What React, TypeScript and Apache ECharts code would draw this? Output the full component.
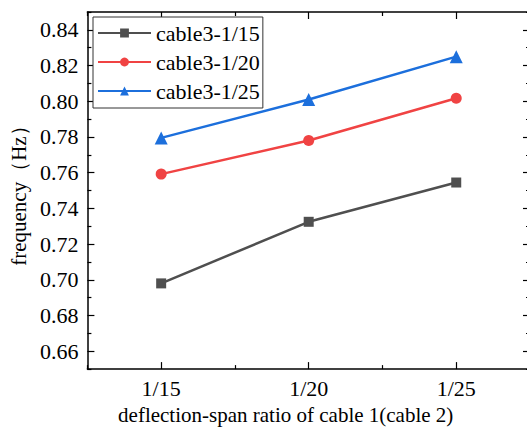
import React, { useEffect, useRef } from "react";
import * as echarts from "echarts";

const categories = ["1/15", "1/20", "1/25"];
const seriesNames = ["cable3-1/15", "cable3-1/20", "cable3-1/25"];
const values1 = [0.698, 0.7325, 0.7545];
const values2 = [0.7592, 0.778, 0.8017];
const values3 = [0.7795, 0.801, 0.825];
const yMajorTicks = [0.66, 0.68, 0.7, 0.72, 0.74, 0.76, 0.78, 0.8, 0.82, 0.84];
const yMinorTicks = [0.65, 0.67, 0.69, 0.71, 0.73, 0.75, 0.77, 0.79, 0.81, 0.83, 0.85];

const FONT = "Liberation Serif, Times New Roman, serif";

export default function App() {
  const ref = useRef<HTMLDivElement>(null);
  useEffect(() => {
    if (!ref.current) return;
    const chart = echarts.init(ref.current, undefined, { renderer: "svg" });
    const axisLine = { show: true, lineStyle: { color: "#000", width: 1.5 } };
    const catBase = (position: string, main: boolean) => ({
      type: "category",
      data: categories,
      position,
      boundaryGap: true,
      axisLine: main ? axisLine : { show: false },
      axisTick: {
        show: true,
        inside: true,
        alignWithLabel: main,
        length: main ? 7 : 4,
        lineStyle: { color: "#000", width: 1.2 },
      },
      axisLabel: { show: false },
      splitLine: { show: false },
    });
    const valBase = (position: string, main: boolean) => ({
      type: "value",
      position,
      min: 0.65,
      max: 0.85,
      axisLine: main ? axisLine : { show: false },
      axisTick: {
        show: true,
        inside: true,
        length: main ? 7 : 4,
        customValues: main ? yMajorTicks : yMinorTicks,
        lineStyle: { color: "#000", width: 1.2 },
      },
      axisLabel: { show: false },
      splitLine: { show: false },
    });
    const xMain: any = catBase("bottom", true);
    xMain.axisLabel = {
      show: true,
      margin: 8,
      fontFamily: FONT,
      fontSize: 22,
      fontWeight: "normal",
      color: "#000",
    };
    xMain.name = "deflection-span ratio of cable 1(cable 2)";
    xMain.nameLocation = "middle";
    xMain.nameGap = 30;
    xMain.nameTextStyle = { fontFamily: FONT, fontSize: 21, color: "#000", padding: [0, 46, 0, 0] };
    const yMain: any = valBase("left", true);
    yMain.axisLabel = {
      show: true,
      margin: 9,
      fontFamily: FONT,
      fontSize: 22,
      fontWeight: "normal",
      color: "#000",
      customValues: yMajorTicks,
      formatter: (v: number) => v.toFixed(2),
    };
    yMain.name = "frequency（Hz）";
    yMain.nameLocation = "middle";
    yMain.nameGap = 54;
    yMain.nameTextStyle = { fontFamily: FONT, fontSize: 21, color: "#000" };

    const mk = (name: string, data: number[], color: string, symbol: string, size: number) => ({
      type: "line",
      name,
      data,
      xAxisIndex: 0,
      yAxisIndex: 0,
      symbol,
      symbolSize: size,
      showSymbol: true,
      lineStyle: { color, width: 2.5 },
      itemStyle: { color },
    });

    chart.setOption({
      animation: false,
      textStyle: { fontFamily: FONT },
      grid: { left: 87, top: 12, right: 10, bottom: 58 },
      legend: {
        orient: "vertical",
        left: 93,
        top: 17,
        padding: [5, 3, 6, 4],
        itemWidth: 53,
        itemHeight: 11,
        itemGap: 7,
        borderColor: "#333",
        borderWidth: 1,
        backgroundColor: "#fff",
        textStyle: { fontFamily: FONT, fontSize: 22, color: "#000" },
        data: seriesNames,
      },
      xAxis: [xMain, catBase("bottom", false), catBase("top", true), catBase("top", false)],
      yAxis: [yMain, valBase("left", false), valBase("right", true), valBase("right", false)],
      series: [
        mk(seriesNames[0], values1, "#4f4f4f", "rect", 10),
        mk(seriesNames[1], values2, "#f04343", "circle", 11),
        mk(seriesNames[2], values3, "#1c6fdc", "triangle", 13),
      ],
    });
    return () => chart.dispose();
  }, []);
  return (
    <div
      style={{
        position: "fixed",
        left: 0,
        top: 0,
        width: 527,
        height: 430,
        overflow: "hidden",
        background: "#fff",
      }}
    >
      <div ref={ref} style={{ width: 540, height: 430 }} />
    </div>
  );
}
